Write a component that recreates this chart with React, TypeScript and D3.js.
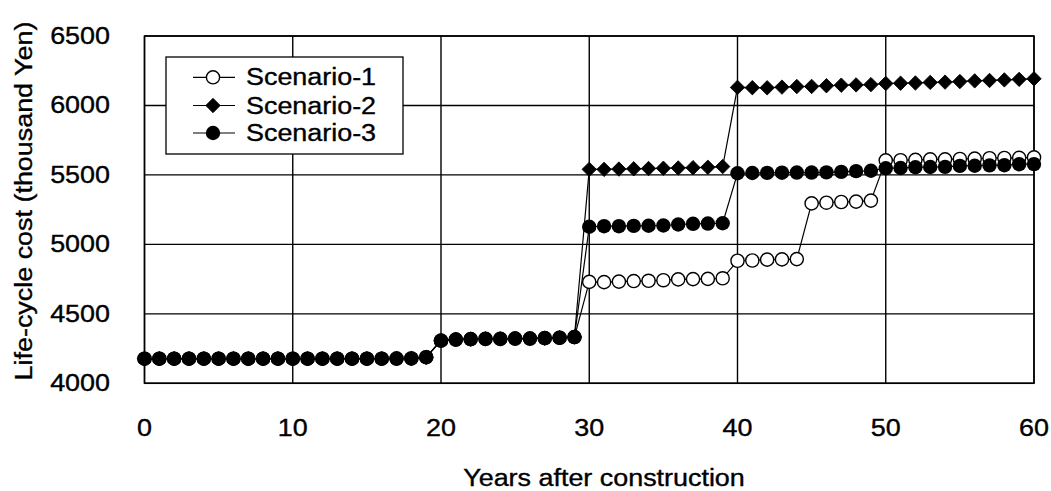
import React from "react";
import * as d3 from "d3";

const years: number[] = d3.range(0, 61);

const common0to29: number[] = [
  4177, 4177, 4177, 4177, 4177, 4177, 4177, 4177, 4177, 4177,
  4177, 4177, 4177, 4177, 4177, 4177, 4177, 4178, 4179, 4188,
  4307, 4315, 4318, 4320, 4320, 4322, 4322, 4325, 4328, 4333,
];

const scenario1Tail: number[] = [
  4730, 4728, 4732, 4736, 4738, 4742, 4748, 4750, 4752, 4756,
  4882, 4884, 4890, 4892, 4894,
  5295, 5300, 5305, 5308, 5315,
  5605, 5606, 5608, 5612, 5612, 5615, 5617, 5620, 5622, 5623, 5626,
];

const scenario2Tail: number[] = [
  5540, 5540, 5542, 5544, 5546, 5548, 5550, 5552, 5555, 5560,
  6130, 6128, 6127, 6132, 6136, 6137, 6142, 6146, 6148, 6150,
  6158, 6160, 6162, 6166, 6168, 6172, 6177, 6180, 6184, 6188, 6192,
];

const scenario3Tail: number[] = [
  5127, 5131, 5131, 5133, 5134, 5136, 5143, 5148, 5150, 5152,
  5512, 5514, 5515, 5516, 5517, 5517, 5518, 5522, 5527, 5530,
  5548, 5550, 5555, 5557, 5558, 5565, 5566, 5569, 5570, 5577, 5578,
];

const seriesNames: string[] = ["Scenario-1", "Scenario-2", "Scenario-3"];
const seriesTails: number[][] = [scenario1Tail, scenario2Tail, scenario3Tail];
const seriesMarkers: string[] = ["openCircle", "diamond", "filledCircle"];

const xTicks: number[] = [0, 10, 20, 30, 40, 50, 60];
const yTicks: number[] = [4000, 4500, 5000, 5500, 6000, 6500];

const xTitle = "Years after construction";
const yTitle = "Life-cycle cost (thousand Yen)";

const W = 1051;
const H = 491;
const FONT = "'Liberation Sans', Arial, Helvetica, sans-serif";
const FS = 23;
const SX = 1.17;

const x = d3.scaleLinear().domain([0, 60]).range([144.5, 1034]);
const y = d3.scaleLinear().domain([4000, 6500]).range([383.3, 36]);

const diamondPath = d3.symbol().type(d3.symbolSquare).size(104)() as string;

function Marker({ kind, cx, cy }: { kind: string; cx: number; cy: number }) {
  if (kind === "diamond") {
    return (
      <path
        d={diamondPath}
        transform={`translate(${cx},${cy}) rotate(45)`}
        fill="#000"
        stroke="#000"
        strokeWidth={0.8}
      />
    );
  }
  if (kind === "openCircle") {
    return <circle cx={cx} cy={cy} r={6.6} fill="#fff" stroke="#000" strokeWidth={1.4} />;
  }
  return <circle cx={cx} cy={cy} r={7.2} fill="#000" />;
}

function SText({
  tx,
  ty,
  anchor,
  rotate,
  children,
}: {
  tx: number;
  ty: number;
  anchor: string;
  rotate?: number;
  children: React.ReactNode;
}) {
  return (
    <text
      transform={`translate(${tx},${ty})${rotate ? ` rotate(${rotate})` : ""} scale(${SX},1)`}
      textAnchor={anchor}
      fontFamily={FONT}
      fontSize={FS}
      fill="#000"
      stroke="#000"
      strokeWidth={0.35}
    >
      {children}
    </text>
  );
}

export default function App() {
  const data = seriesTails.map((tail) => common0to29.concat(tail));
  const line = d3
    .line<number>()
    .x((_, i) => x(years[i]))
    .y((v) => y(v));

  const [x0, x1] = x.range();
  const [y0, y1] = y.range();

  const legendX = 166;
  const legendY = 57;
  const legendW = 237;
  const legendH = 97;
  const legendRows = [77.3, 105.5, 133];

  return (
    <svg
      width={W}
      height={H}
      style={{ position: "absolute", left: 0, top: 0, background: "#fff" }}
    >
      <rect x={0} y={0} width={W} height={H} fill="#fff" />
      {/* grid */}
      {xTicks.map((t) => (
        <line key={"gx" + t} x1={x(t)} x2={x(t)} y1={y1} y2={y0} stroke="#000" strokeWidth={1.4} />
      ))}
      {yTicks.map((t) => (
        <line key={"gy" + t} x1={x0} x2={x1} y1={y(t)} y2={y(t)} stroke="#000" strokeWidth={1.4} />
      ))}
      <rect x={x0} y={y1} width={x1 - x0} height={y0 - y1} fill="none" stroke="#000" strokeWidth={1.5} />

      {/* tick labels */}
      {yTicks.map((t) => (
        <SText key={"ly" + t} tx={110} ty={y(t) + 8} anchor="end">
          {t}
        </SText>
      ))}
      {xTicks.map((t) => (
        <SText key={"lx" + t} tx={x(t)} ty={436} anchor="middle">
          {t}
        </SText>
      ))}

      {/* axis titles */}
      <SText tx={604} ty={486} anchor="middle">
        {xTitle}
      </SText>
      <SText tx={32} ty={201} anchor="middle" rotate={-90}>
        {yTitle}
      </SText>

      {/* legend */}
      <rect x={legendX} y={legendY} width={legendW} height={legendH} fill="#fff" stroke="#000" strokeWidth={1.3} />
      {seriesNames.map((name, i) => (
        <g key={name}>
          <line x1={193} x2={235} y1={legendRows[i]} y2={legendRows[i]} stroke="#000" strokeWidth={1.2} />
          <Marker kind={seriesMarkers[i]} cx={213} cy={legendRows[i]} />
          <SText tx={246} ty={legendRows[i] + 8} anchor="start">
            {name}
          </SText>
        </g>
      ))}

      {/* series */}
      {data.map((vals, si) => (
        <g key={"s" + si}>
          <path d={line(vals) as string} fill="none" stroke="#000" strokeWidth={1.2} />
          {vals.map((v, i) => (
            <Marker key={i} kind={seriesMarkers[si]} cx={x(years[i])} cy={y(v)} />
          ))}
        </g>
      ))}
    </svg>
  );
}
